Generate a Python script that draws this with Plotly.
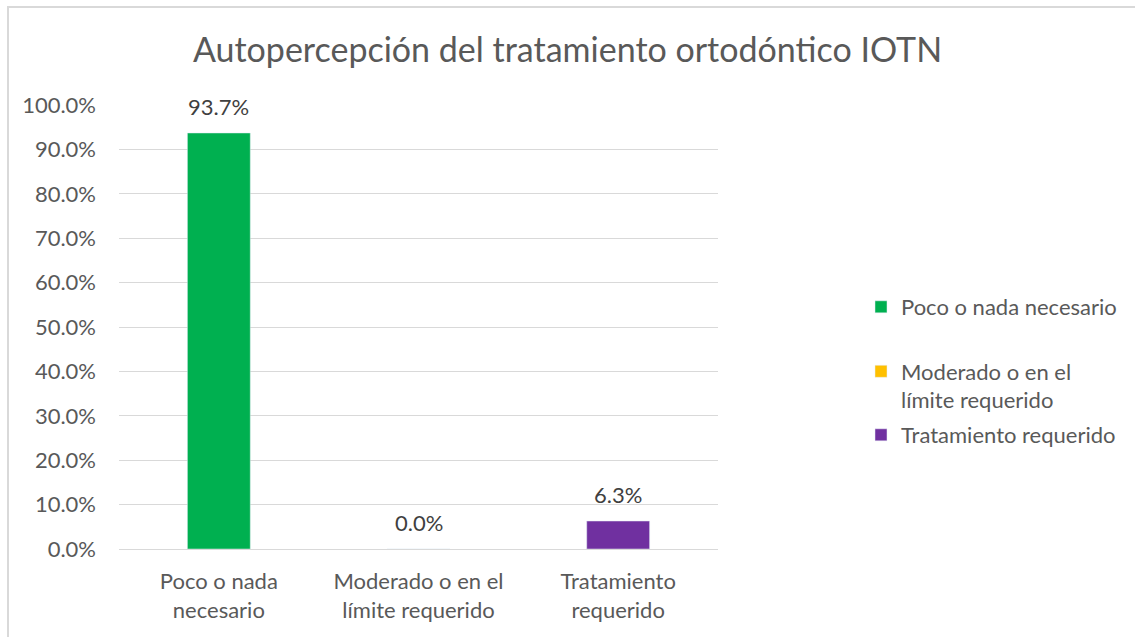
import plotly.graph_objects as go

categories = ["Poco o nada necesario", "Moderado o en el límite requerido", "Tratamiento requerido"]
tick_labels = ["Poco o nada<br>necesario", "Moderado o en el<br>límite requerido", "Tratamiento<br>requerido"]
legend_labels = ["Poco o nada necesario", "Moderado o en el<br>límite requerido", "Tratamiento requerido"]
values = [0.937, 0.0, 0.063]
value_labels = ["93.7%", "0.0%", "6.3%"]
colors = ["#00B050", "#FFC000", "#7030A0"]

W, H = 1135, 637
ML, MR, MT, MB = 119, 417, 105, 88
FONT = "Lato, Carlito, Calibri, sans-serif"
GREY = "#595959"
pw = W - ML - MR
ph = H - MT - MB

legend_ids = ["legend", "legend2", "legend3"]
legend_y_px = [307, 386, 435]

fig = go.Figure()
for cat, lab, val, col, lid in zip(categories, legend_labels, values, colors, legend_ids):
    fig.add_trace(go.Bar(x=[cat], y=[val], name=lab, marker_color=col,
                         width=0.315, legend=lid, showlegend=True))

for cat, val, txt in zip(categories, values, value_labels):
    fig.add_annotation(x=cat, y=val, text=txt, showarrow=False, yanchor="bottom",
                       yshift=11, font=dict(family=FONT, size=22, color="#404040"))

fig.add_shape(type="rect", xref="paper", yref="paper",
              x0=(8 - ML) / pw, x1=(W + 5 - ML) / pw,
              y0=(H - MB - (H + 5)) / ph, y1=(H - MB - 7) / ph,
              line=dict(color="#D9D9D9", width=2), fillcolor="rgba(0,0,0,0)", layer="below")

legend_common = dict(xanchor="left", yanchor="middle", itemwidth=30,
                     font=dict(family=FONT, size=22, color=GREY), bgcolor="rgba(0,0,0,0)")
legends = {}
for lid, ypx in zip(legend_ids, legend_y_px):
    d = dict(legend_common)
    d["x"] = (861 - ML) / pw
    d["y"] = (H - MB - ypx) / ph
    if lid == "legend2":
        d["valign"] = "top"
    legends[lid] = d

fig.update_layout(
    width=W, height=H,
    margin=dict(l=ML, r=MR, t=MT, b=MB),
    paper_bgcolor="white", plot_bgcolor="white",
    barmode="overlay",
    showlegend=True,
    title=dict(text="Autopercepción del tratamiento ortodóntico IOTN", x=0.5, xanchor="center",
               y=1 - 50 / H, yanchor="middle",
               font=dict(family=FONT, size=34, color=GREY)),
    font=dict(family=FONT, size=22, color=GREY),
    xaxis=dict(tickmode="array", tickvals=categories, ticktext=tick_labels,
               showgrid=False, showline=False, ticks="", ticklabelstandoff=17,
               tickfont=dict(family=FONT, size=22, color=GREY)),
    yaxis=dict(range=[0, 1.0], dtick=0.1, tickformat=".1%", showgrid=True,
               gridcolor="#D9D9D9", gridwidth=1.3, zeroline=True, zerolinecolor="#D9D9D9",
               zerolinewidth=1.3, showline=False, ticks="", ticklabelstandoff=22,
               tickfont=dict(family=FONT, size=22, color=GREY)),
    **legends,
)

fig.write_html("out.html", config={"displayModeBar": False},
               post_script="document.body.style.margin='0';")
